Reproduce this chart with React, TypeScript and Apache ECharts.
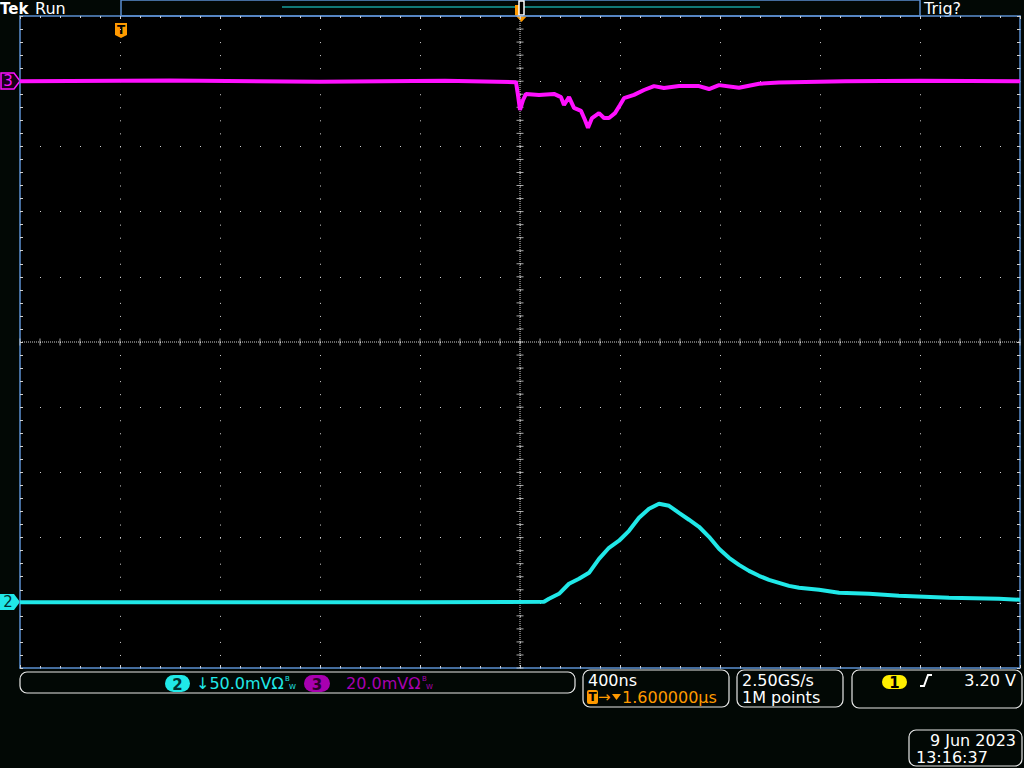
import React, { useEffect, useRef } from "react";
import * as echarts from "echarts";

// ---- Time base (ns, relative to trigger), 400 ns/div, 10 divisions ----
const X_MIN_NS = -400;
const X_MAX_NS = 3600;
const X_DIV_NS = 400;
const X_CENTER_NS = 1600;

// ---- Channel 3 (magenta, 20.0 mV/div, ground at +4 div) ----
const ch3ScaleMvPerDiv = 20;
const ch3OffsetDiv = 4;
const ch3TimeNs = [
  -400, 200, 800, 1300, 1584, 1592, 1600, 1612, 1624, 1676, 1736, 1764, 1776, 1796,
  1816, 1844, 1860, 1872, 1888, 1916, 1936, 1956, 1980, 2000, 2016, 2056, 2096, 2136,
  2176, 2236, 2316, 2356, 2396, 2476, 2556, 2636, 2900, 3200, 3600,
];
const ch3Mv = [
  0, 0.2, -0.2, 0.1, -0.3, -4.3, -8.8, -5.8, -3.9, -4.2, -3.9, -4.9, -7.3, -4.9,
  -8.2, -9.1, -11.9, -14.3, -11.3, -9.8, -11.3, -11.3, -9.8, -7.3, -5.2, -4.2, -2.7, -1.5,
  -2.1, -1.5, -1.5, -2.4, -1.2, -2.0, -0.8, -0.4, 0, 0.1, 0,
];

// ---- Channel 2 (cyan, 50.0 mV/div, ground at -4 div) ----
const ch2ScaleMvPerDiv = 50;
const ch2OffsetDiv = -4;
const ch2TimeNs = [
  -400, 400, 1200, 1696, 1716, 1756, 1796, 1836, 1876, 1916, 1956, 1996, 2036, 2076,
  2116, 2156, 2196, 2236, 2276, 2316, 2356, 2396, 2436, 2476, 2516, 2556, 2596, 2636,
  2676, 2716, 2796, 2876, 2996, 3116, 3316, 3516, 3600,
];
const ch2Mv = [
  0.4, 0.5, 0.4, 0.8, 3.1, 6.9, 14.6, 18.4, 23, 33.7, 42.2, 47.6, 55.2, 65.2,
  72.1, 75.9, 74.4, 69, 63.7, 58.3, 50.6, 41.4, 34.5, 29.1, 24.5, 20.7, 17.6, 15.3,
  13, 11.5, 10, 7.7, 6.9, 5.4, 3.8, 3.1, 2.3,
];

// ---- Readout texts ----
const topLeftTexts = ["Tek", "Run"];
const trigStatus = "Trig?";
const ch2Readout = "↓50.0mVΩ";
const ch3Readout = "20.0mVΩ";
const bwMark = ["B", "W"];
const horizScale = "400ns";
const horizDelay = "1.600000µs";
const sampleRate = "2.50GS/s";
const recordLength = "1M points";
const trigLevel = "3.20 V";
const dateText = "9 Jun 2023";
const timeText = "13:16:37";

const FONT = "DejaVu Sans";
const MAGENTA = "#ff10ff";
const MAGENTA_DARK = "#a800b0";
const CYAN = "#20e8e8";
const ORANGE = "#ff9a00";
const BLUE = "#5b8fd0";
const GRID_DOT = "#d0d0d0";

export default function App() {
  const ref = useRef<HTMLDivElement>(null);

  useEffect(() => {
    if (!ref.current) return;
    const chart = echarts.init(ref.current, undefined, { renderer: "svg" });

    const ch3Data = ch3TimeNs.map((t, i) => [t, ch3OffsetDiv + ch3Mv[i] / ch3ScaleMvPerDiv]);
    const ch2Data = ch2TimeNs.map((t, i) => [t, ch2OffsetDiv + ch2Mv[i] / ch2ScaleMvPerDiv]);

    // graticule tick marks on the centre lines
    const hTicks: number[][] = [];
    for (let t = X_MIN_NS; t <= X_MAX_NS; t += X_DIV_NS / 5) hTicks.push([t, 0]);
    const vTicks: number[][] = [];
    for (let k = -25; k <= 25; k++) vTicks.push([X_CENTER_NS, k / 5]);

    const baseX = {
      type: "value",
      min: X_MIN_NS,
      max: X_MAX_NS,
      interval: X_DIV_NS,
      axisLine: { show: true, onZero: false, lineStyle: { color: BLUE, width: 1.5 } },
      axisTick: { show: true, inside: true, length: 3, lineStyle: { color: GRID_DOT } },
      minorTick: { show: true, splitNumber: 5, length: 2, lineStyle: { color: GRID_DOT } },
      axisLabel: { show: false },
    };
    const baseY = {
      type: "value",
      min: -5,
      max: 5,
      interval: 1,
      axisLine: { show: true, onZero: false, lineStyle: { color: BLUE, width: 1.5 } },
      axisTick: { show: true, inside: true, length: 3, lineStyle: { color: GRID_DOT } },
      minorTick: { show: true, splitNumber: 5, length: 3, lineStyle: { color: GRID_DOT } },
      axisLabel: { show: false },
    };

    const pill = (x: number, y: number, w: number, h: number, fill: string, label: string, color: string) => ({
      type: "group",
      children: [
        { type: "rect", shape: { x, y, width: w, height: h, r: h / 2 }, style: { fill } },
        {
          type: "text",
          x: x + w / 2,
          y: y + h / 2 + 1,
          style: { text: label, fill: color, font: `bold 15px '${FONT}'`, align: "center", verticalAlign: "middle" },
        },
      ],
    });

    const box = (x: number, y: number, w: number, h: number) => ({
      type: "rect",
      shape: { x, y, width: w, height: h, r: 7 },
      style: { fill: "none", stroke: "#e8e8e8", lineWidth: 1.2 },
    });

    const txt = (x: number, y: number, text: string, fill: string, size = 16, extra: any = {}) => ({
      type: "text",
      x,
      y,
      style: { text, fill, font: `${size}px '${FONT}'`, verticalAlign: "top", ...extra },
    });

    chart.setOption({
      animation: false,
      backgroundColor: "#020805",
      grid: { left: 20, top: 16, width: 1000, height: 652, show: true, backgroundColor: "#000", borderWidth: 0 },
      xAxis: [
        { ...baseX, position: "bottom", splitLine: { show: true, lineStyle: { color: GRID_DOT, type: [1, 12.04], width: 1 } } },
        { ...baseX, position: "top", splitLine: { show: false } },
      ],
      yAxis: [
        { ...baseY, position: "left", splitLine: { show: true, lineStyle: { color: GRID_DOT, type: [1, 19], width: 1 } } },
        { ...baseY, position: "right", splitLine: { show: false } },
      ],
      series: [
        {
          type: "line",
          silent: true,
          data: [[X_MIN_NS, 0], [X_MAX_NS, 0]],
          symbol: "none",
          lineStyle: { color: GRID_DOT, width: 1, type: [1, 1] },
        },
        {
          type: "line",
          silent: true,
          data: [[X_CENTER_NS, -5], [X_CENTER_NS, 5]],
          symbol: "none",
          lineStyle: { color: GRID_DOT, width: 1, type: [1, 1] },
        },
        {
          type: "scatter",
          silent: true,
          data: hTicks,
          symbol: "rect",
          symbolSize: [1, 7],
          itemStyle: { color: GRID_DOT },
        },
        {
          type: "scatter",
          silent: true,
          data: vTicks,
          symbol: "rect",
          symbolSize: [7, 1],
          itemStyle: { color: GRID_DOT },
        },
        {
          name: "Ch3",
          type: "line",
          data: ch3Data,
          symbol: "none",
          lineStyle: { color: MAGENTA, width: 4 },
          z: 5,
        },
        {
          name: "Ch2",
          type: "line",
          data: ch2Data,
          symbol: "none",
          lineStyle: { color: CYAN, width: 4 },
          z: 5,
        },
      ],
      graphic: [
        // top status bar
        txt(0, 1, topLeftTexts[0], "#ffffff", 15, { font: `bold 15px '${FONT}'` }),
        txt(35, 0, topLeftTexts[1], "#ffffff", 16),
        { type: "rect", shape: { x: 121, y: 0, width: 799, height: 16 }, style: { fill: "none", stroke: BLUE, lineWidth: 1.5 } },
        { type: "line", shape: { x1: 282, y1: 7, x2: 760, y2: 7 }, style: { stroke: CYAN, lineWidth: 1 } },
        { type: "rect", shape: { x: 515, y: 5, width: 4, height: 11 }, style: { fill: ORANGE } },
        { type: "rect", shape: { x: 519, y: 1, width: 5, height: 14 }, style: { fill: "#000", stroke: "#fff", lineWidth: 1.5 } },
        { type: "polygon", shape: { points: [[516, 16], [527, 16], [521.5, 22]] }, style: { fill: ORANGE } },
        txt(924, 0, trigStatus, "#ffffff", 16),
        // trigger position marker
        {
          type: "polygon",
          shape: { points: [[115, 23], [127, 23], [127, 35], [121, 38], [115, 35]] },
          style: { fill: ORANGE },
        },
        txt(121, 24, "T", "#000", 12, { font: `bold 12px '${FONT}'`, align: "center" }),
        // channel ground markers
        {
          type: "polygon",
          shape: { points: [[1, 73], [14, 73], [20, 81], [14, 89], [1, 89]] },
          style: { fill: "#1a001a", stroke: MAGENTA, lineWidth: 1.5 },
        },
        txt(8, 81, "3", MAGENTA, 15, { align: "center", verticalAlign: "middle" }),
        {
          type: "polygon",
          shape: { points: [[0, 594], [14, 594], [20, 602], [14, 610], [0, 610]] },
          style: { fill: CYAN },
        },
        txt(8, 602, "2", "#003030", 15, { align: "center", verticalAlign: "middle" }),
        // bottom readouts
        box(20, 672, 555, 21),
        pill(165, 675, 25, 17, CYAN, "2", "#003030"),
        txt(196, 675, ch2Readout, CYAN, 16),
        txt(285, 675, bwMark[0], CYAN, 7),
        txt(289, 683, bwMark[1], CYAN, 7),
        pill(304, 675, 26, 17, MAGENTA_DARK, "3", "#2a002a"),
        txt(346, 675, ch3Readout, MAGENTA_DARK, 16),
        txt(422, 675, bwMark[0], MAGENTA_DARK, 7),
        txt(426, 683, bwMark[1], MAGENTA_DARK, 7),

        box(583, 670, 146, 37),
        txt(588, 672, horizScale, "#ffffff", 16),
        { type: "rect", shape: { x: 587, y: 690, width: 11, height: 14, r: 2 }, style: { fill: ORANGE } },
        txt(592.5, 691, "T", "#000", 12, { font: `bold 12px '${FONT}'`, align: "center" }),
        txt(598, 689, "→", ORANGE, 15),
        { type: "polygon", shape: { points: [[612, 694], [621, 694], [616.5, 700]] }, style: { fill: ORANGE } },
        txt(622, 689, horizDelay, ORANGE, 16),

        box(737, 670, 106, 37),
        txt(742, 672, sampleRate, "#ffffff", 16),
        txt(742, 689, recordLength, "#ffffff", 16),

        box(852, 670, 170, 38),
        pill(882, 675, 25, 14, "#ffee00", "1", "#000"),
        {
          type: "polyline",
          shape: { points: [[920, 686], [924, 686], [928, 675], [932, 675]] },
          style: { stroke: "#ffffff", lineWidth: 2, fill: "none" },
        },
        txt(1016, 672, trigLevel, "#ffffff", 16, { align: "right" }),

        box(909, 730, 113, 36),
        txt(1016, 732, dateText, "#ffffff", 16, { align: "right" }),
        txt(916, 749, timeText, "#ffffff", 16),
      ],
    });

    return () => chart.dispose();
  }, []);

  return (
    <div
      ref={ref}
      style={{ position: "fixed", left: 0, top: 0, width: 1024, height: 768, background: "#020805" }}
    />
  );
}
